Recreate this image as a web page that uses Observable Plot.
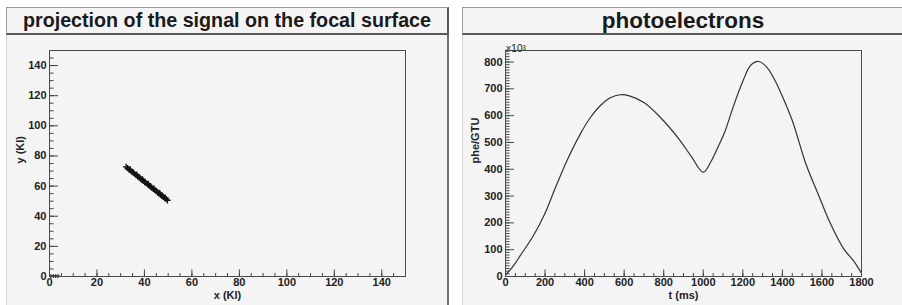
<!DOCTYPE html>
<html>
<head>
<meta charset="utf-8">
<script src="https://cdn.jsdelivr.net/npm/d3@7"></script>
<script src="https://cdn.jsdelivr.net/npm/@observablehq/plot@0.6"></script>
<style>
  body { margin: 0; background: #ffffff; }
  #wrap { position: relative; width: 902px; height: 305px; overflow: hidden; background: #ffffff;
          font-family: "Liberation Sans", Arial, sans-serif; }
  .pad { position: absolute; top: 7px; height: 320px; background: #f4f4f4; box-sizing: border-box; }
  .titlebox { position: absolute; top: 7px; height: 28px; box-sizing: border-box; background: #f4f4f4;
              border-top: 1px solid #9a9a9a; border-left: 1px solid #9a9a9a;
              border-right: 2px solid #5a5a5a; border-bottom: 2px solid #5a5a5a;
              text-align: center; font-weight: bold; color: #1a1a1a; line-height: 25px; }
  .chart { position: absolute; top: 0; }
</style>
</head>
<body>
<div id="wrap">
  <div class="pad" style="left:6px;width:443px;border-left:1px solid #d0d0d0;border-right:2px solid #707070;"></div>
  <div class="pad" style="left:462px;width:445px;border-left:1px solid #d0d0d0;"></div>
  <div id="left" class="chart" style="left:0px;"></div>
  <div id="right" class="chart" style="left:451px;"></div>
  <div class="titlebox" id="t1" style="left:6px;width:443px;font-size:19.7px;"></div>
  <div class="titlebox" id="t2" style="left:462px;width:443px;font-size:22.5px;"></div>
</div>
<script>
// ---------- data ----------
const leftTitle = "projection of the signal on the focal surface";
const rightTitle = "photoelectrons";
const leftXLabel = "x (Kl)";
const leftYLabel = "y (Kl)";
const rightXLabel = "t (ms)";
const rightYLabel = "phe/GTU";
const rightYExp = "×10³";

// signal projection points (KI units)
const trackX = [32.3, 32.9, 33.5, 34.1, 34.7, 35.3, 35.9, 36.5, 37.1, 37.7, 38.3, 38.9, 39.5, 40.1, 40.7,
                41.3, 41.9, 42.5, 43.1, 43.7, 44.3, 44.9, 45.5, 46.1, 46.7, 47.3, 47.9, 48.5, 49.1, 49.7,
                34.0, 36.8, 39.2, 41.6, 44.0, 46.4, 48.8];
const trackY = [72.7, 71.9, 71.1, 70.4, 69.6, 68.9, 68.1, 67.3, 66.6, 65.8, 65.0, 64.3, 63.5, 62.7, 62.0,
                61.3, 60.5, 59.7, 59.0, 58.2, 57.5, 56.7, 55.9, 55.2, 54.4, 53.7, 52.9, 52.1, 51.4, 50.6,
                71.0, 67.6, 64.4, 61.4, 58.4, 55.4, 52.3];
const originX = [0.6, 1.6, 2.6, 3.6];
const originY = [0.2, 0.2, 0.2, 0.2];

// photoelectron curve (values in units of 10^3 phe/GTU)
const tMs = [0, 40, 80, 140, 200, 250, 310, 380, 430, 480, 530, 580, 630, 700, 780, 880, 940, 1000,
             1040, 1070, 1110, 1150, 1200, 1240, 1280, 1320, 1360, 1400, 1450, 1520, 1580, 1640, 1710, 1760, 1800];
const phe = [5, 40, 84, 151, 236, 327, 431, 534, 594, 638, 667, 678, 673, 649, 596, 510, 447, 389,
             430, 476, 542, 630, 728, 788, 802, 782, 735, 672, 582, 418, 309, 202, 103, 58, 12];

const leftXMajor = [0, 20, 40, 60, 80, 100, 120, 140];
const leftYMajor = [0, 20, 40, 60, 80, 100, 120, 140];
const rightXMajor = [0, 200, 400, 600, 800, 1000, 1200, 1400, 1600, 1800];
const rightYMajor = [0, 100, 200, 300, 400, 500, 600, 700, 800];
const leftMinor = d3.range(0, 151, 5);
const rightXMinor = d3.range(0, 1801, 50);
const rightYMinor = d3.range(0, 841, 10);

// ---------- layout ----------
const W = 451, H = 305, MT = 50, MB = 29;
const plotH = H - MT - MB;
const font = "'Liberation Sans', Arial, sans-serif";
const ink = "#222";
const fmt = d => String(d);

document.getElementById("t1").textContent = leftTitle;
document.getElementById("t2").textContent = rightTitle;

function ticksMarks(xMaj, xMin, yMaj, yMin, plotW) {
  return [
    Plot.tickY(yMin, {y: d => d, insetRight: plotW - 4.5, stroke: "#444", strokeWidth: 1}),
    Plot.tickY(yMaj, {y: d => d, insetRight: plotW - 9, stroke: "#444", strokeWidth: 1}),
    Plot.tickX(xMin, {x: d => d, insetTop: plotH - 3, stroke: "#444", strokeWidth: 1}),
    Plot.tickX(xMaj, {x: d => d, insetTop: plotH - 6.5, stroke: "#444", strokeWidth: 1})
  ];
}

// left chart
{
  const ML = 49, MR = 46, plotW = W - ML - MR;
  const track = trackX.map((x, i) => ({x, y: trackY[i]}));
  const orig = originX.map((x, i) => ({x, y: originY[i]}));
  const chart = Plot.plot({
    width: W, height: H, marginLeft: ML, marginRight: MR, marginTop: MT, marginBottom: MB,
    style: {background: "transparent", overflow: "visible", fontFamily: font, color: ink},
    x: {domain: [0, 150]},
    y: {domain: [0, 150]},
    marks: [
      ...ticksMarks(leftXMajor, leftMinor, leftYMajor, leftMinor, plotW),
      Plot.dot(track, {x: "x", y: "y", symbol: "plus", r: 2.2, stroke: "#111", strokeWidth: 1.3}),
      Plot.dot(orig, {x: "x", y: "y", symbol: "plus", r: 1.3, stroke: "#222", strokeWidth: 1.2}),
      Plot.frame({stroke: "#4a4a4a", strokeWidth: 1}),
      Plot.axisX({ticks: leftXMajor, tickFormat: fmt, tickSize: 0, tickPadding: 2, label: null, fontSize: 11, fontWeight: "bold"}),
      Plot.axisY({ticks: leftYMajor, tickFormat: fmt, tickSize: 0, tickPadding: 3, label: null, fontSize: 11, fontWeight: "bold"}),
      Plot.text([leftXLabel], {frameAnchor: "bottom", dy: 22, text: d => d, fontSize: 11, fontWeight: "bold", fill: ink}),
      Plot.text([leftYLabel], {frameAnchor: "left", dx: -29, rotate: -90, text: d => d, fontSize: 11, fontWeight: "bold", fill: ink})
    ]
  });
  document.getElementById("left").appendChild(chart);
}

// right chart
{
  const ML = 54, MR = 41, plotW = W - ML - MR;
  const data = tMs.map((t, i) => ({t, v: phe[i]}));
  const chart = Plot.plot({
    width: W, height: H, marginLeft: ML, marginRight: MR, marginTop: MT, marginBottom: MB,
    style: {background: "transparent", overflow: "visible", fontFamily: font, color: ink},
    x: {domain: [0, 1800]},
    y: {domain: [0, 843]},
    marks: [
      ...ticksMarks(rightXMajor, rightXMinor, rightYMajor, rightYMinor, plotW),
      Plot.line(data, {x: "t", y: "v", stroke: "#333", strokeWidth: 1.2, curve: "catmull-rom"}),
      Plot.frame({stroke: "#4a4a4a", strokeWidth: 1}),
      Plot.axisX({ticks: rightXMajor, tickFormat: fmt, tickSize: 0, tickPadding: 2, label: null, fontSize: 11, fontWeight: "bold"}),
      Plot.axisY({ticks: rightYMajor, tickFormat: fmt, tickSize: 0, tickPadding: 3, label: null, fontSize: 11, fontWeight: "bold"}),
      Plot.text([rightYExp], {frameAnchor: "top-left", dy: -6, dx: 0, textAnchor: "start", text: d => d, fontSize: 10, fill: ink}),
      Plot.text([rightXLabel], {frameAnchor: "bottom", dy: 22, text: d => d, fontSize: 11, fontWeight: "bold", fill: ink}),
      Plot.text([rightYLabel], {frameAnchor: "left", dx: -30, rotate: -90, text: d => d, fontSize: 11, fontWeight: "bold", fill: ink})
    ]
  });
  document.getElementById("right").appendChild(chart);
}
</script>
</body>
</html>
